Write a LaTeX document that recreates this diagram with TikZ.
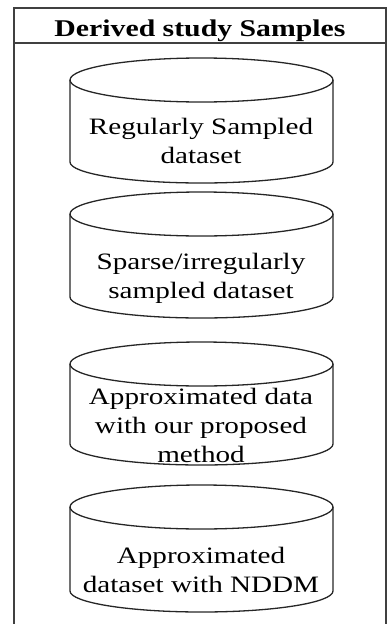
\documentclass[tikz,border=0pt]{standalone}
\usepackage{fontspec}
\setmainfont{Liberation Serif}[FakeStretch=1.24]
\begin{document}
\begin{tikzpicture}[x=1pt,y=1pt,
  frame/.style={line width=2pt,draw=black!75},
  cylline/.style={line width=1.3pt,draw=black!85},
  cyltext/.style={align=center,anchor=base,inner sep=0pt,
    font=\fontsize{23.5}{29}\selectfont},
  titletext/.style={anchor=base,inner sep=0pt,
    font=\fontsize{24}{29}\selectfont\bfseries}]
\useasboundingbox (0,0) rectangle (388,-624);
% outer frame (open at the bottom)
\coordinate (fbl) at (14,-624);
\coordinate (ftl) at (14,-8);
\coordinate (ftr) at (386,-8);
\coordinate (fbr) at (386,-624);
\coordinate (hl) at (14,-43);
\coordinate (hr) at (386,-43);
\draw[frame] (fbl) -- (ftl) -- (ftr) -- (fbr);
\draw[frame] (hl) -- (hr);
\node[titletext] (title) at (200,-36) {Derived study Samples};
% cylinders
\newcommand{\dbcyl}[3]{%
  \draw[cylline] (201.5,-#1) ellipse [x radius=131.5, y radius=22];
  \draw[cylline] (70,-#1) -- (70,-#2) arc[start angle=180,end angle=360,x radius=131.5,y radius=21] -- (333,-#1);
}
\dbcyl{80}{162}{}
\dbcyl{214}{297}{}
\dbcyl{364}{444}{}
\dbcyl{507}{591}{}
\node[cyltext] (c1) at (201,-163) {Regularly Sampled\\dataset};
\node[cyltext] (c2) at (201,-298) {Sparse/irregularly\\sampled dataset};
\node[cyltext] (c3) at (201,-462) {Approximated data\\with our proposed\\method};
\node[cyltext] (c4) at (201,-592) {Approximated\\dataset with NDDM};
\end{tikzpicture}
\end{document}
